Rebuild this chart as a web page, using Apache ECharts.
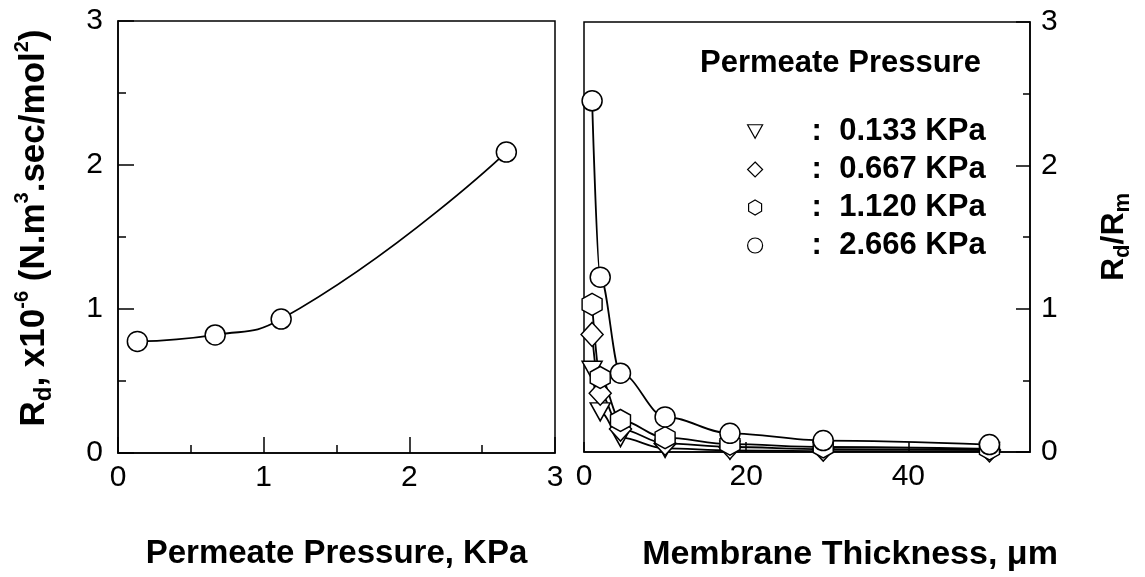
<!DOCTYPE html>
<html>
<head>
<meta charset="utf-8">
<title>Rd vs permeate pressure and membrane thickness</title>
<script src="https://cdn.jsdelivr.net/npm/echarts@6/dist/echarts.min.js"></script>
<style>
html, body {
  margin: 0;
  padding: 0;
  background: #fff;
}
#myChart {
  width: 1145px;
  height: 577px;
}
</style>
</head>
<body>
<div id="myChart"></div>
<script>
// left panel: Rd against permeate pressure
const pressureKPa = [0.133, 0.667, 1.12, 2.666]
const rdValues = [0.775, 0.82, 0.93, 2.09]

// right panel: Rd/Rm against membrane thickness (um), one list per pressure
const thicknessUm = [1, 2, 4.5, 10, 18, 29.5, 50]
const ratio0133 = [0.57, 0.28, 0.10, 0.025, 0.012, 0.006, 0.004]
const ratio0667 = [0.82, 0.41, 0.16, 0.06, 0.035, 0.02, 0.014]
const ratio1120 = [1.03, 0.52, 0.22, 0.10, 0.055, 0.035, 0.022]
const ratio2666 = [2.45, 1.22, 0.55, 0.245, 0.13, 0.08, 0.052]

const legendNames = ['0.133 KPa', '0.667 KPa', '1.120 KPa', '2.666 KPa']
const leftTicks = [0, 1, 2, 3]

const font = '"Liberation Sans", Arial, Helvetica, sans-serif'
const triDown = 'path://M-1,-0.9 L1,-0.9 L0,0.9 Z'
const hexagon = 'path://M0,-1 L0.866,-0.5 L0.866,0.5 L0,1 L-0.866,0.5 L-0.866,-0.5 Z'

function pairs (xs, ys) {
  return xs.map((x, i) => [x, ys[i]])
}

let markerStyle = {color: '#fff', borderColor: '#000', borderWidth: 1.5}
let curveStyle = {color: '#000', width: 1.8}

function thicknessSeries (name, values, symbol, size) {
  return {
    name: name,
    type: 'line',
    xAxisIndex: 1,
    yAxisIndex: 1,
    data: pairs(thicknessUm, values),
    smooth: 0.35,
    smoothMonotone: 'x',
    symbol: symbol,
    symbolSize: size,
    itemStyle: markerStyle,
    lineStyle: curveStyle
  }
}

// shared axis look
let axisLine = {onZero: false, lineStyle: {color: '#000', width: 1.5}}
let tickLine = {color: '#000', width: 1.5}
let tickLabel = {color: '#000', fontSize: 30, fontFamily: font}

let subRich = {
  b: {fontSize: 35, fontWeight: 'bold', fontFamily: font, color: '#000', lineHeight: 44},
  sub: {fontSize: 24, fontWeight: 'bold', fontFamily: font, color: '#000', verticalAlign: 'bottom'},
  sup: {fontSize: 20, fontWeight: 'bold', fontFamily: font, color: '#000', verticalAlign: 'top'}
}
let rightRich = {
  b: {fontSize: 32, fontWeight: 'bold', fontFamily: font, color: '#000', lineHeight: 40},
  sub: {fontSize: 22, fontWeight: 'bold', fontFamily: font, color: '#000', verticalAlign: 'bottom'}
}

let myChart = echarts.init(document.getElementById('myChart'))
let option = {
  animation: false,
  backgroundColor: '#fff',
  textStyle: {fontFamily: font, color: '#000'},
  title: {
    text: 'Permeate Pressure',
    left: 700,
    top: 48,
    padding: 0,
    textStyle: {fontSize: 31, fontWeight: 'bold', color: '#000', fontFamily: font}
  },
  legend: {
    orient: 'vertical',
    left: 747,
    top: 116,
    padding: 0,
    itemWidth: 15,
    itemHeight: 15,
    itemGap: 7,
    data: [
      {name: legendNames[0], icon: triDown},
      {name: legendNames[1], icon: 'diamond'},
      {name: legendNames[2], icon: hexagon},
      {name: legendNames[3], icon: 'circle'}
    ],
    itemStyle: {color: '#fff', borderColor: '#000', borderWidth: 1.2},
    formatter: function (name) {
      return '{g|}{t|:  ' + name + '}'
    },
    textStyle: {
      rich: {
        g: {width: 44},
        t: {fontSize: 31, fontWeight: 'bold', color: '#000', fontFamily: font, lineHeight: 32}
      }
    }
  },
  grid: [
    {left: 118, top: 21, width: 437, height: 432, show: true, borderColor: '#000', borderWidth: 1.5},
    {left: 584, top: 22, width: 446, height: 430, show: true, borderColor: '#000', borderWidth: 1.5}
  ],
  xAxis: [
    {
      type: 'value',
      gridIndex: 0,
      min: leftTicks[0],
      max: leftTicks[leftTicks.length - 1],
      interval: 1,
      axisLine: axisLine,
      axisTick: {inside: true, length: 16, lineStyle: tickLine},
      minorTick: {show: true, splitNumber: 2, length: 8, lineStyle: tickLine},
      splitLine: {show: false},
      axisLabel: Object.assign({margin: 10}, tickLabel),
      name: 'Permeate Pressure, KPa',
      nameLocation: 'middle',
      nameGap: 84,
      nameTextStyle: {fontSize: 33, fontWeight: 'bold', color: '#000', fontFamily: font}
    },
    {
      type: 'value',
      gridIndex: 1,
      min: 0,
      max: 55,
      interval: 20,
      axisLine: axisLine,
      axisTick: {inside: true, length: 10, lineStyle: tickLine},
      splitLine: {show: false},
      axisLabel: Object.assign({margin: 10, showMaxLabel: false}, tickLabel),
      name: 'Membrane Thickness, μm',
      nameLocation: 'middle',
      nameGap: 86,
      nameTextStyle: {fontSize: 34, fontWeight: 'bold', color: '#000', fontFamily: font, padding: [0, 0, 0, 86]}
    }
  ],
  yAxis: [
    {
      type: 'value',
      gridIndex: 0,
      min: 0,
      max: 3,
      interval: 1,
      axisLine: axisLine,
      axisTick: {inside: true, length: 16, lineStyle: tickLine},
      minorTick: {show: true, splitNumber: 2, length: 8, lineStyle: tickLine},
      splitLine: {show: false},
      axisLabel: Object.assign({margin: 15}, tickLabel),
      name: '{b|R}{sub|d}{b|, x10}{sup|-6}{b| (N.m}{sup|3}{b|.sec/mol}{sup|2}{b|)}',
      nameLocation: 'middle',
      nameRotate: 90,
      nameGap: 62,
      nameTextStyle: {rich: subRich, padding: [0, 0, 0, 18]}
    },
    {
      type: 'value',
      gridIndex: 1,
      position: 'right',
      min: 0,
      max: 3,
      interval: 1,
      axisLine: axisLine,
      axisTick: {inside: true, length: 14, lineStyle: tickLine},
      minorTick: {show: true, splitNumber: 2, length: 7, lineStyle: tickLine},
      splitLine: {show: false},
      axisLabel: Object.assign({margin: 11}, tickLabel),
      name: '{b|R}{sub|d}{b|/R}{sub|m}',
      nameLocation: 'middle',
      nameRotate: 90,
      nameGap: 64,
      nameTextStyle: {rich: rightRich}
    }
  ],
  series: [
    {
      name: 'Rd',
      type: 'line',
      xAxisIndex: 0,
      yAxisIndex: 0,
      data: pairs(pressureKPa, rdValues),
      smooth: true,
      symbol: 'circle',
      symbolSize: 20,
      itemStyle: markerStyle,
      lineStyle: curveStyle
    },
    thicknessSeries(legendNames[0], ratio0133, triDown, [20, 18]),
    thicknessSeries(legendNames[1], ratio0667, 'diamond', [22, 24]),
    thicknessSeries(legendNames[2], ratio1120, hexagon, [20, 22]),
    thicknessSeries(legendNames[3], ratio2666, 'circle', 20)
  ]
}
myChart.setOption(option, true)
</script>
</body>
</html>
